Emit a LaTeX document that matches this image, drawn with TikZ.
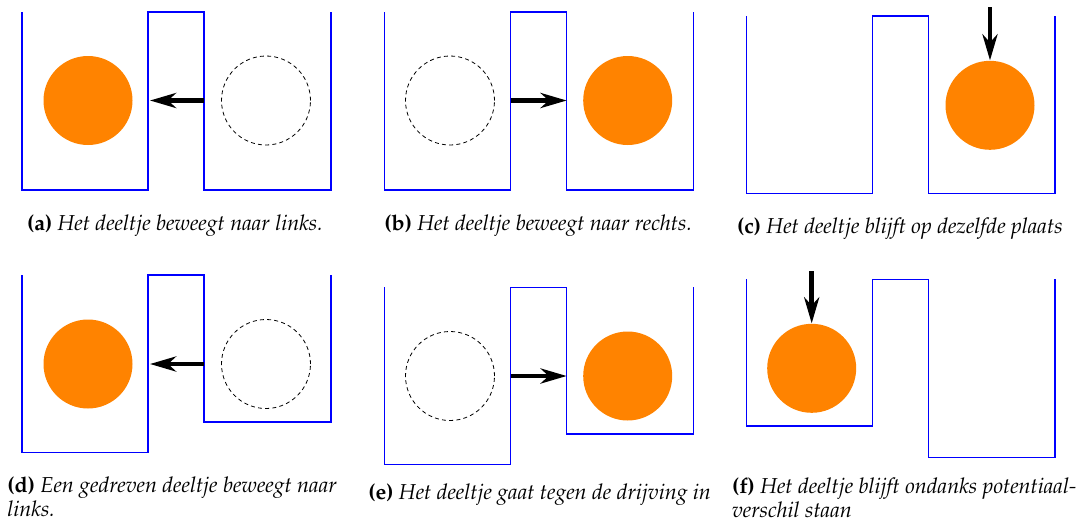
\documentclass[tikz,border=0pt]{standalone}
\usepackage[T1]{fontenc}
\usepackage{mathpazo}
\usepackage{tikz}
\usetikzlibrary{arrows.meta}
\definecolor{wellblue}{RGB}{0,0,255}
\definecolor{ballorange}{RGB}{255,131,0}
\newcommand{\capfont}{\fontsize{10.8}{10.5}\selectfont}

\tikzset{
  well/.style={draw=wellblue,line width=0.65pt},
  ball/.style={circle,fill=ballorange,inner sep=0pt,minimum size=44.5pt},
  ghost/.style={circle,draw,dash pattern=on 2pt off 1.6pt,line width=0.4pt,inner sep=0pt,minimum size=44.5pt},
  push/.style={line width=2.4pt,-{Stealth[length=13pt,width=7.5pt,inset=4pt]}},
  subcap/.style={inner sep=0pt,font=\capfont,anchor=base west}
}

\begin{document}
\begin{tikzpicture}[x=0.5pt,y=-0.5pt]
\useasboundingbox (0,0) rectangle (1083,526);
% (a)
\draw[well] (22,12) -- (22,190) -- (148,190) -- (148,12) -- (204,12) -- (204,190) -- (331,190) -- (331,12);
\node[ball] (ballA) at (88,100.5) {};
\node[ghost] (ghostA) at (266,100.5) {};
\coordinate (fromA) at (204,100.5);
\coordinate (toA) at (150,100.5);
\draw[push] (fromA) -- (toA);
\node[subcap] (capA) at (26.7,230) {\textbf{(a)} \textit{Het deeltje beweegt naar links.}};
% (b)
\draw[well] (384.3,12) -- (384.3,190) -- (510.7,190) -- (510.7,12) -- (566.7,12) -- (566.7,190) -- (693.3,190) -- (693.3,12);
\node[ghost] (ghostB) at (450,100.5) {};
\node[ball] (ballB) at (627.7,100.5) {};
\coordinate (fromB) at (511,100.5);
\coordinate (toB) at (566.7,100.5);
\draw[push] (fromB) -- (toB);
\node[subcap] (capB) at (384,230) {\textbf{(b)} \textit{Het deeltje beweegt naar rechts.}};
% (c)
\draw[well] (746.3,16) -- (746.3,193.7) -- (872.7,193.7) -- (872.7,16) -- (928.7,16) -- (928.7,193.7) -- (1055,193.7) -- (1055,16);
\node[ball] (ballC) at (990,105.3) {};
\coordinate (fromC) at (990,7);
\draw[push] (fromC) -- (ballC.north);
\node[subcap] (capC) at (736.7,233) {\textbf{(c)} \textit{Het deeltje blijft op dezelfde plaats}};
% (d)
\draw[well] (22,275) -- (22,452.7) -- (148,452.7) -- (148,275) -- (204,275) -- (204,422) -- (331,422) -- (331,275);
\node[ball] (ballD) at (88,364) {};
\node[ghost] (ghostD) at (266,364) {};
\coordinate (fromD) at (204,364);
\coordinate (toD) at (150,364);
\draw[push] (fromD) -- (toD);
\node[subcap,align=left] (capD) at (7,516) {\textbf{(d)} \textit{Een gedreven deeltje beweegt naar}\\\textit{links.}};
% (e)
\draw[well] (384.3,287.3) -- (384.3,464.7) -- (510.7,464.7) -- (510.7,287.3) -- (566.7,287.3) -- (566.7,434) -- (693.3,434) -- (693.3,287.3);
\node[ghost] (ghostE) at (450,376) {};
\node[ball] (ballE) at (627.7,376) {};
\coordinate (fromE) at (511,376);
\coordinate (toE) at (566.7,376);
\draw[push] (fromE) -- (toE);
\node[subcap] (capE) at (368,499) {\textbf{(e)} \textit{Het deeltje gaat tegen de drijving in}};
% (f)
\draw[well] (746.3,279.3) -- (746.3,426) -- (872.7,426) -- (872.7,279.3) -- (928.7,279.3) -- (928.7,457.7) -- (1055,457.7) -- (1055,279.3);
\node[ball] (ballF) at (811.7,368.3) {};
\coordinate (fromF) at (811.7,271);
\draw[push] (fromF) -- (ballF.north);
\node[subcap,align=left] (capF) at (731.7,517) {\textbf{(f)} \textit{Het deeltje blijft ondanks potentiaal-}\\\textit{verschil staan}};
\end{tikzpicture}
\end{document}
